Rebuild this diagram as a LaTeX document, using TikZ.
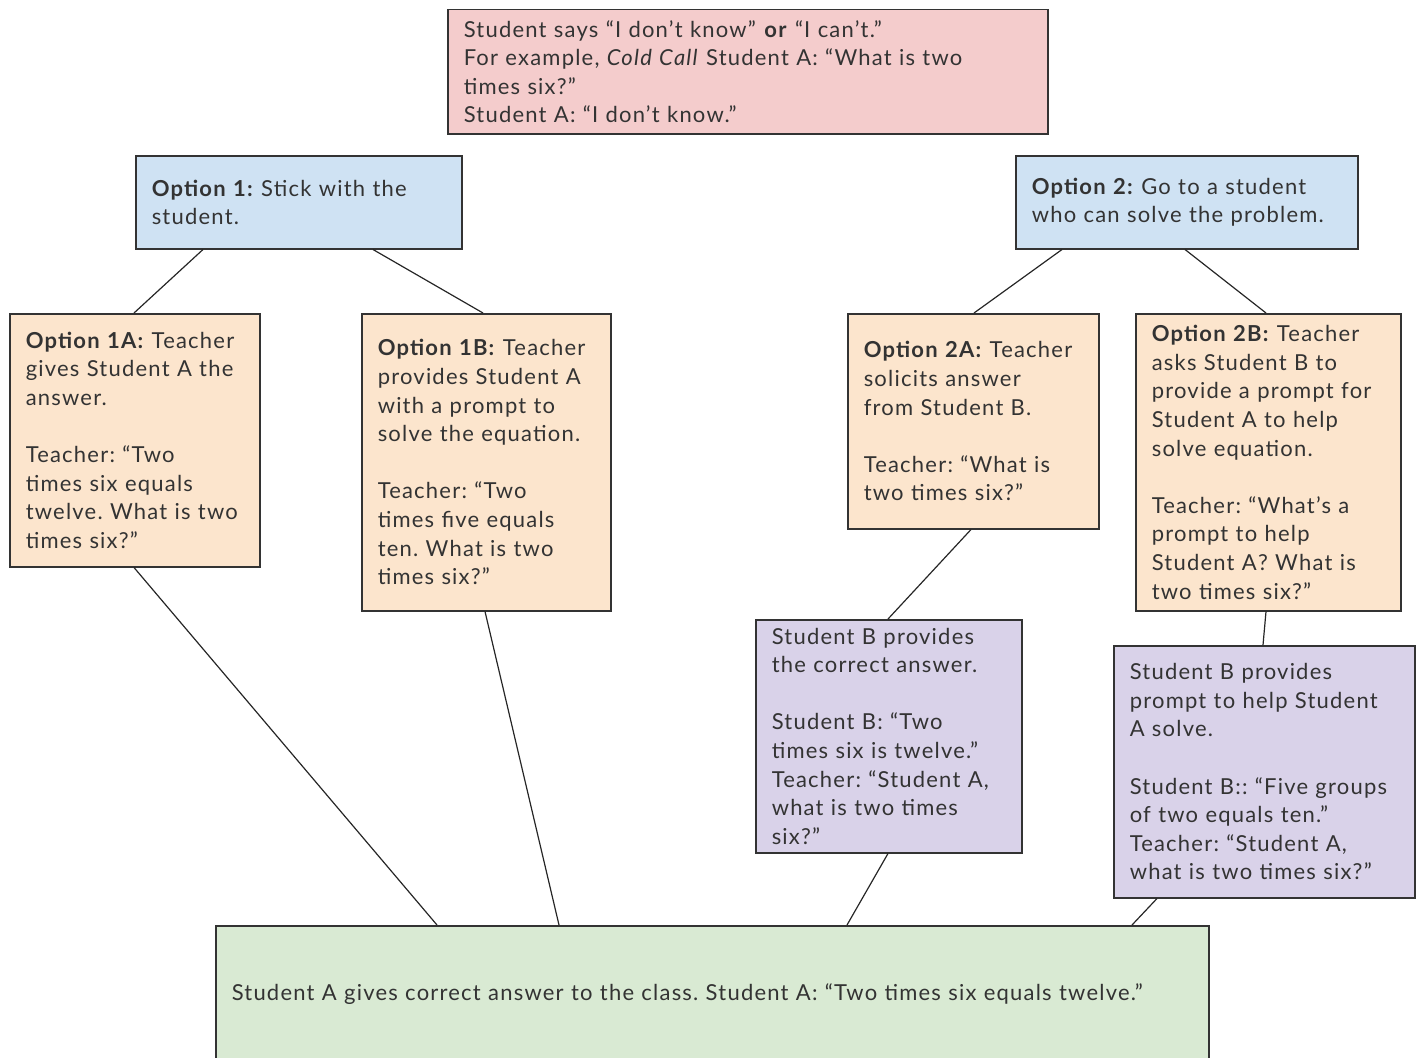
\documentclass[tikz,border=0pt]{standalone}
\usepackage{fontspec}
\setmainfont{Lato}[LetterSpace=5.5]
\definecolor{pinkf}{HTML}{F4CCCC}
\definecolor{bluef}{HTML}{CFE2F3}
\definecolor{orangef}{HTML}{FCE5CD}
\definecolor{purplef}{HTML}{D9D2E9}
\definecolor{greenf}{HTML}{D9EAD3}
\definecolor{edge}{HTML}{333333}
\definecolor{txt}{HTML}{333333}
\tikzset{
  box/.style={draw=edge, line width=1.5pt, align=left, inner xsep=16pt, inner ysep=0pt,
    text=txt, font=\fontsize{22}{28.6}\selectfont\frenchspacing, anchor=north west},
  conn/.style={draw=black!85, line width=1.2pt}
}
\begin{document}
\begin{tikzpicture}[x=1pt,y=-1pt]
\useasboundingbox (0,0) rectangle (1418,1057);
% boxes: (x,y) top-left, width, height
\node[box, fill=pinkf, text width=568pt, minimum width=600pt, minimum height=124pt] (top) at (447,9)
 {Student says “I don’t know” \textbf{or} “I can’t.”\\
  For example, \textit{Cold Call} Student A: “What is two\\
  times six?”\\
  Student A: “I don’t know.”};
\node[box, fill=bluef, text width=294pt, minimum width=326pt, minimum height=93pt] (o1) at (135,155)
 {\textbf{Option 1:} Stick with the\\ student.};
\node[box, fill=bluef, text width=310pt, minimum width=342pt, minimum height=93pt] (o2) at (1015,155)
 {\textbf{Option 2:} Go to a student\\ who can solve the problem.};
\node[box, fill=orangef, text width=218pt, minimum width=250pt, minimum height=253pt] (oa) at (9,313)
 {\textbf{Option 1A:} Teacher\\ gives Student A the\\ answer.\\[28.6pt]
  Teacher: “Two\\ times six equals\\ twelve. What is two\\ times six?”};
\node[box, fill=orangef, text width=217pt, minimum width=249pt, minimum height=297pt] (ob) at (361,313)
 {\textbf{Option 1B:} Teacher\\ provides Student A\\ with a prompt to\\ solve the equation.\\[28.6pt]
  Teacher: “Two\\ times five equals\\ ten. What is two\\ times six?”};
\node[box, fill=orangef, text width=219pt, minimum width=251pt, minimum height=215pt] (tc) at (847,313)
 {\textbf{Option 2A:} Teacher\\ solicits answer\\ from Student B.\\[28.6pt]
  Teacher: “What is\\ two times six?”};
\node[box, fill=orangef, text width=233pt, minimum width=265pt, minimum height=297pt] (td) at (1135,313)
 {\textbf{Option 2B:} Teacher\\ asks Student B to\\ provide a prompt for\\ Student A to help\\ solve equation.\\[28.6pt]
  Teacher: “What’s a\\ prompt to help\\ Student A? What is\\ two times six?”};
\node[box, fill=purplef, text width=234pt, minimum width=266pt, minimum height=233pt] (pa) at (755,619)
 {Student B provides\\ the correct answer.\\[28.6pt]
  Student B: “Two\\ times six is twelve.”\\ Teacher: “Student A,\\ what is two times\\ six?”};
\node[box, fill=purplef, text width=269pt, minimum width=301pt, minimum height=252pt] (pb) at (1113,645)
 {Student B provides\\ prompt to help Student\\ A solve.\\[28.6pt]
  Student B:: “Five groups\\ of two equals ten.”\\ Teacher: “Student A,\\ what is two times six?”};
\node[box, fill=greenf, text width=961pt, minimum width=993pt, minimum height=136pt] (fin) at (215,925)
 {Student A gives correct answer to the class. Student A: “Two times six equals twelve.”};
% connectors
\draw[conn] ([xshift=68pt]o1.south west) -- ([xshift=125pt]oa.north west);
\draw[conn] ([xshift=238pt]o1.south west) -- ([xshift=122pt]ob.north west);
\draw[conn] ([xshift=47pt]o2.south west) -- ([xshift=127pt]tc.north west);
\draw[conn] ([xshift=170pt]o2.south west) -- ([xshift=131pt]td.north west);
\draw[conn] ([xshift=125pt]oa.south west) -- ([xshift=222pt]fin.north west);
\draw[conn] ([xshift=124pt]ob.south west) -- ([xshift=344pt]fin.north west);
\draw[conn] ([xshift=124pt]tc.south west) -- ([xshift=133pt]pa.north west);
\draw[conn] ([xshift=133pt]pa.south west) -- ([xshift=632pt]fin.north west);
\draw[conn] ([xshift=131pt]td.south west) -- ([xshift=150pt]pb.north west);
\draw[conn] ([xshift=44pt]pb.south west) -- ([xshift=917pt]fin.north west);
\end{tikzpicture}
\end{document}
